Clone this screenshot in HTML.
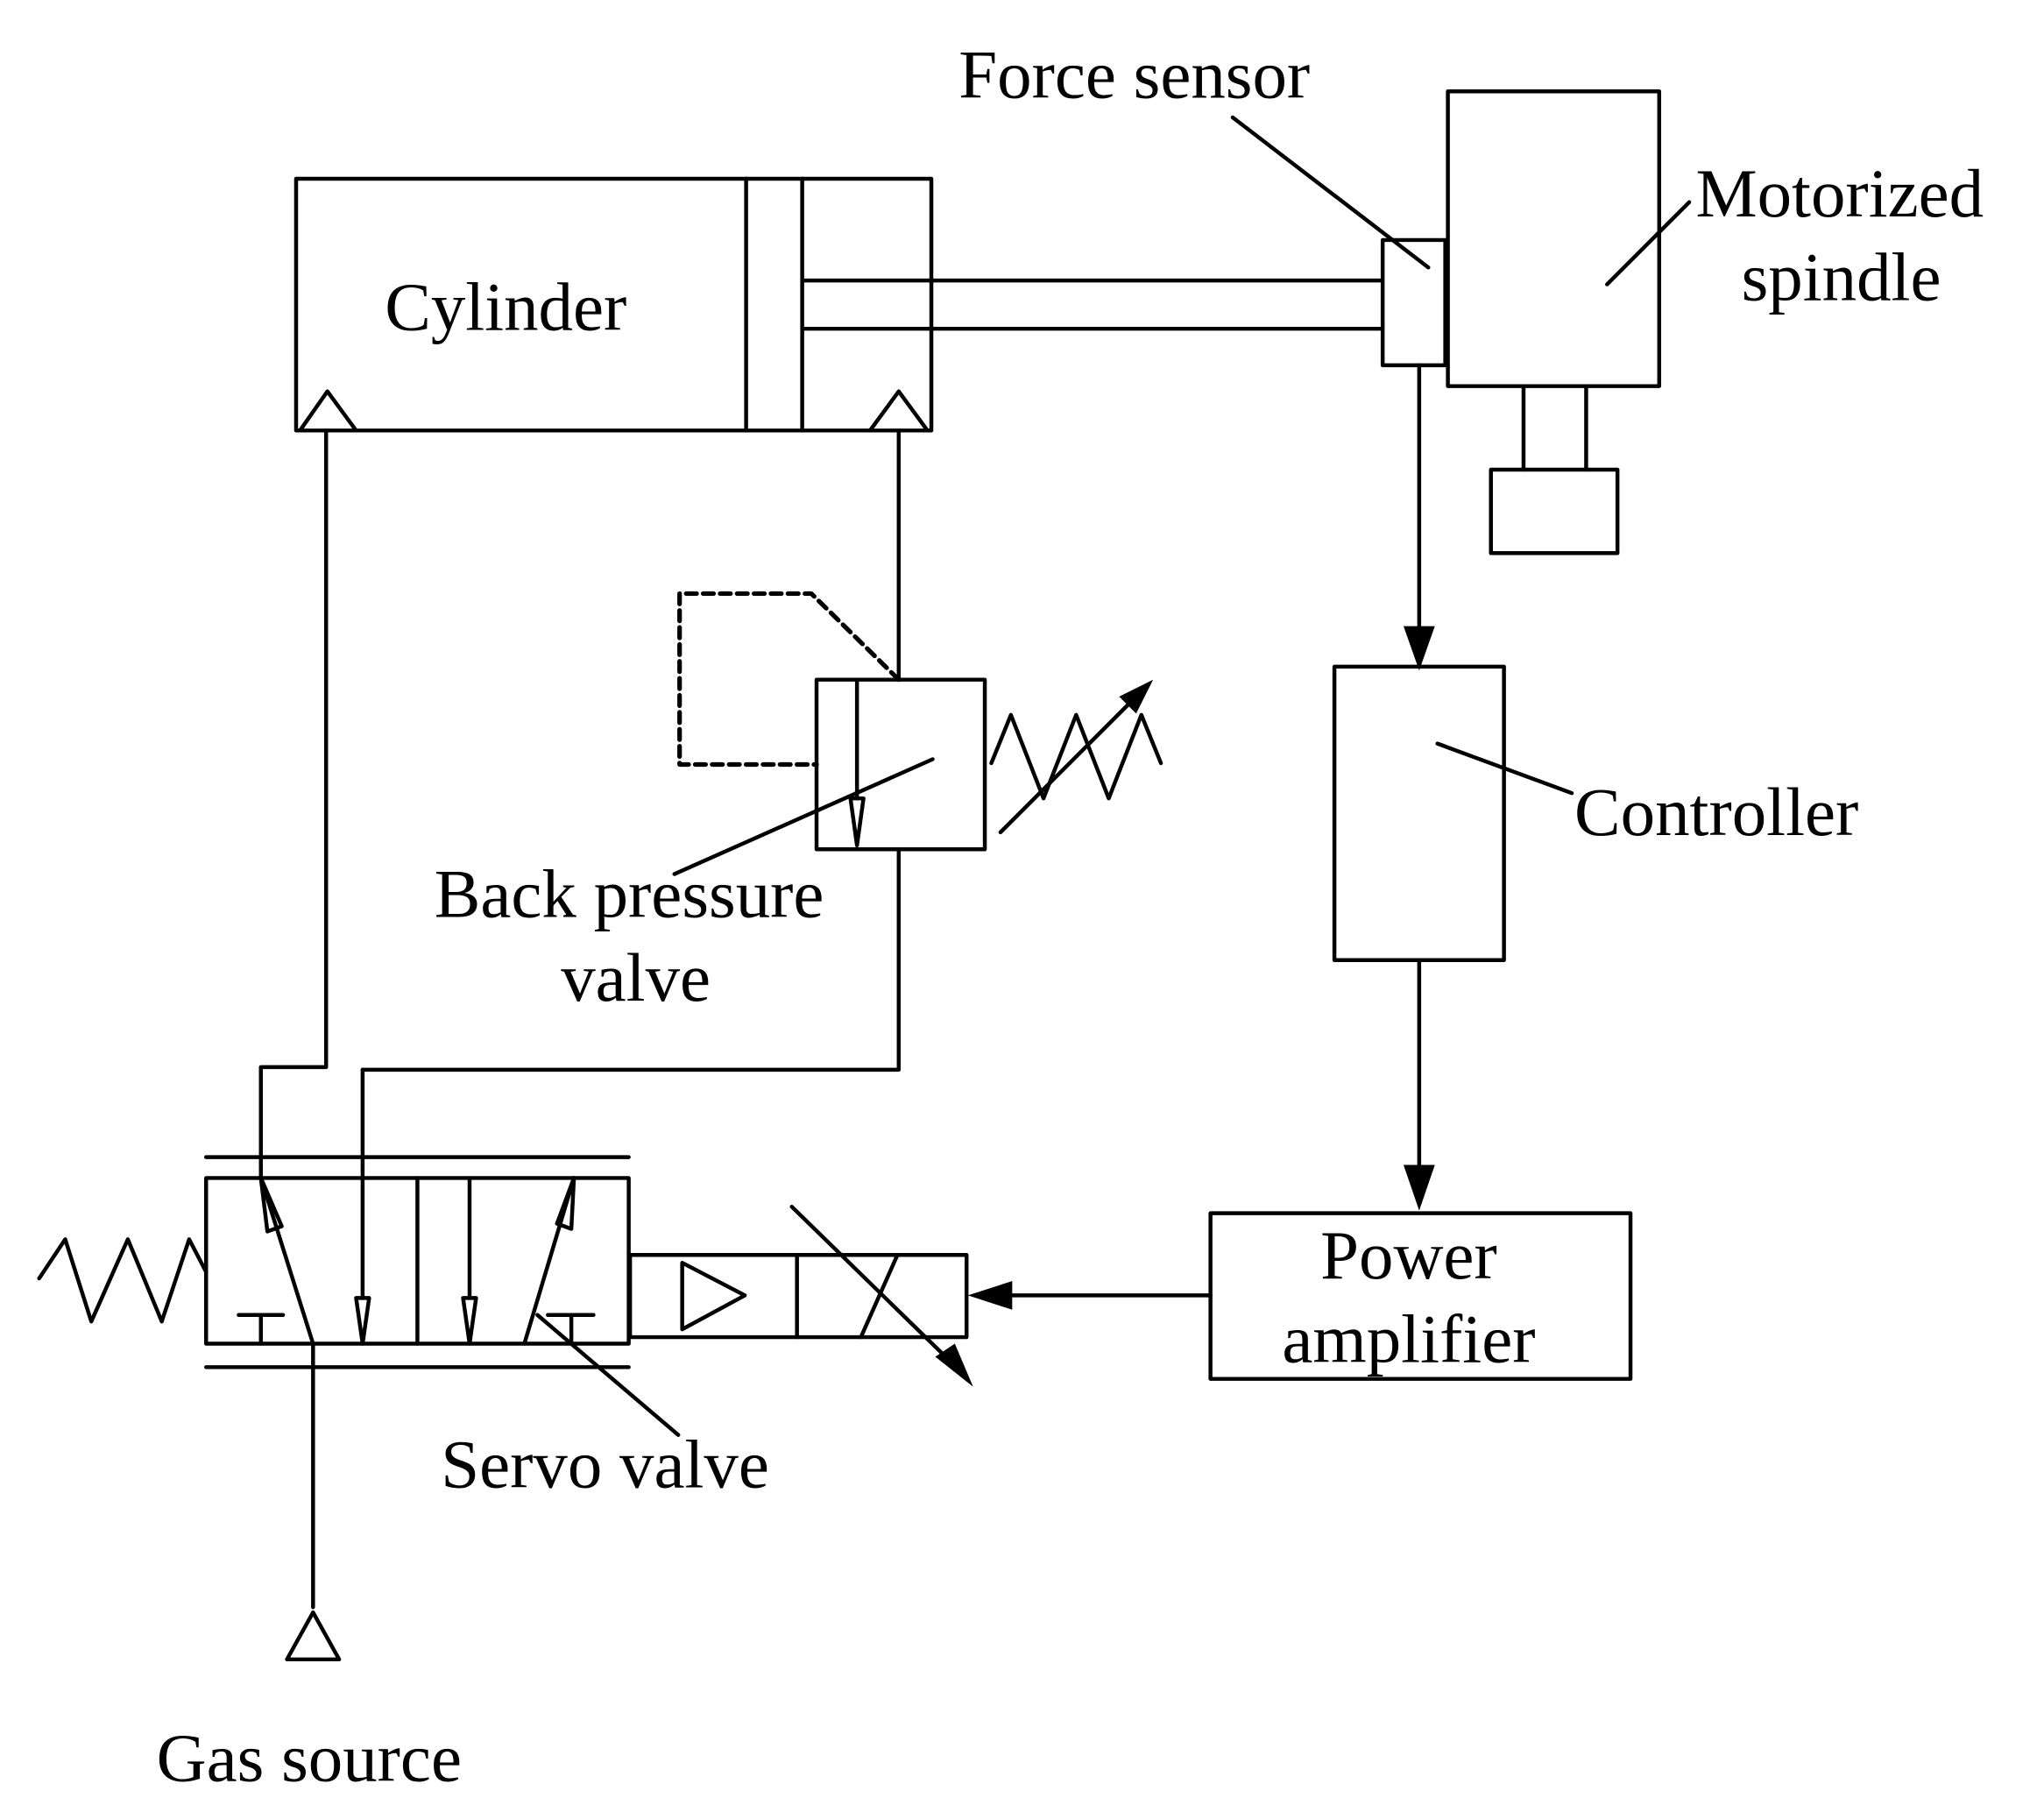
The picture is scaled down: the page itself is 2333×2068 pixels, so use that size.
<!DOCTYPE html>
<html><head><style>html,body{margin:0;padding:0;background:#fff}svg{display:block}</style></head>
<body>
<svg width="2333" height="2068" viewBox="0 0 1567 1389" xmlns="http://www.w3.org/2000/svg">
<g fill="none" stroke="#000" stroke-width="3" stroke-linejoin="round" stroke-linecap="round">
<rect x="227" y="137" width="487" height="193"/>
<line x1="572" y1="137" x2="572" y2="330"/>
<line x1="615" y1="137" x2="615" y2="330"/>
<line x1="615" y1="215" x2="1060" y2="215"/>
<line x1="615" y1="252" x2="1060" y2="252"/>
<polyline points="230,330 251,300 273,330"/>
<polyline points="667,330 689,300 711,330"/>
<rect x="1060" y="184" width="48" height="96"/>
<rect x="1110" y="70" width="162" height="226"/>
<line x1="1168" y1="296" x2="1168" y2="360"/>
<line x1="1216" y1="296" x2="1216" y2="360"/>
<rect x="1143" y="360" width="97" height="64"/>
<line x1="945" y1="90" x2="1095" y2="205"/>
<line x1="1232" y1="218" x2="1295" y2="155"/>
<line x1="1088" y1="280" x2="1088" y2="485"/>
<rect x="1023" y="511" width="130" height="225"/>
<line x1="1102" y1="570" x2="1205" y2="608"/>
<line x1="1088" y1="736" x2="1088" y2="900"/>
<rect x="928" y="930" width="322" height="127"/>
<line x1="928" y1="993" x2="772" y2="993"/>
<rect x="483" y="962" width="258" height="63"/>
<line x1="611" y1="962" x2="611" y2="1025"/>
<polygon points="523,968 571,993 523,1019"/>
<line x1="660" y1="1025" x2="688" y2="962"/>
<line x1="607" y1="925" x2="730" y2="1045"/>
<line x1="158" y1="887" x2="482" y2="887"/>
<line x1="158" y1="1048" x2="482" y2="1048"/>
<rect x="158" y="903" width="324" height="127"/>
<line x1="320" y1="903" x2="320" y2="1030"/>
<line x1="240" y1="1030" x2="200" y2="903"/>
<polygon points="200,903 216,940 205,944"/>
<line x1="402" y1="1030" x2="440" y2="903"/>
<polygon points="440,903 438,942 427,938"/>
<line x1="278" y1="820" x2="278" y2="995"/>
<polygon points="273,995 283,995 278,1030"/>
<line x1="360" y1="903" x2="360" y2="995"/>
<polygon points="355,995 365,995 360,1030"/>
<line x1="183" y1="1008" x2="217" y2="1008"/><line x1="200" y1="1008" x2="200" y2="1030"/>
<line x1="420" y1="1008" x2="455" y2="1008"/><line x1="438" y1="1008" x2="438" y2="1030"/>
<polyline points="30,980 50,950 70,1013 98,950 124,1013 145,950 158,975"/>
<line x1="412" y1="1008" x2="520" y2="1100"/>
<line x1="240" y1="1030" x2="240" y2="1232"/>
<polygon points="220,1272 260,1272 240,1236"/>
<polyline points="250,330 250,818 200,818 200,903"/>
<polyline points="689,330 689,521"/>
<polyline points="689,651 689,820 278,820"/>
<rect x="626" y="521" width="129" height="130"/>
<line x1="657" y1="521" x2="657" y2="612"/>
<polygon points="652,612 662,612 657,648"/>
<polyline points="689,521 622,455 521,455 521,586 626,586" stroke-dasharray="8,5" stroke-width="3.5"/>
<polyline points="760,585 775,548 800,612 825,548 850,612 875,548 890,585"/>
<line x1="767" y1="638" x2="868" y2="537"/>
<line x1="715" y1="582" x2="517" y2="670"/>
</g>
<g fill="#000">
<polygon points="1076,480 1100,480 1088,514"/>
<polygon points="1076,893 1100,893 1088,928"/>
<polygon points="776,982 776,1004 742,993"/>
<polygon points="884,521 858,534 871,547"/>
<polygon points="746,1063 717,1040 732,1030"/>
</g>
<g font-family="Liberation Serif, serif" font-size="53" fill="#000">
<text x="295" y="253">Cylinder</text>
<text x="735" y="75">Force sensor</text>
<text x="1300" y="166">Motorized</text>
<text x="1335" y="230">spindle</text>
<text x="1207" y="640">Controller</text>
<text x="1080" y="980" text-anchor="middle">Power</text>
<text x="1080" y="1044" text-anchor="middle">amplifier</text>
<text x="333" y="703">Back pressure</text>
<text x="430" y="767">valve</text>
<text x="338" y="1140">Servo valve</text>
<text x="120" y="1365">Gas source</text>
</g>
</svg>
</body></html>
